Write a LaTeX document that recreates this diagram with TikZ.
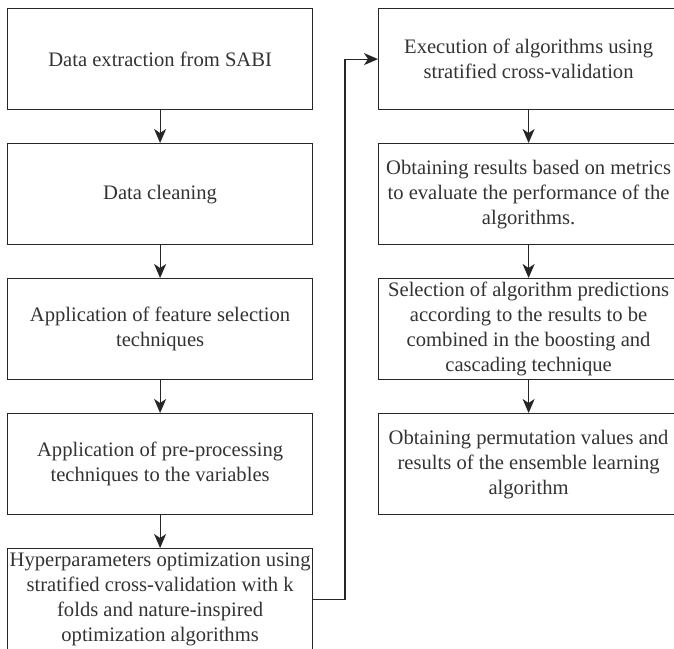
\documentclass[tikz,border=0pt]{standalone}
\usepackage{fontspec}
\setmainfont{Liberation Serif}
\usetikzlibrary{arrows.meta}
\begin{document}
\begin{tikzpicture}[x=1pt,y=-1pt,
  box/.style={draw=black!85, line width=1.2pt, anchor=north west, align=center,
    inner sep=0pt, text=black!80, font=\rmfamily\fontsize{20.6}{25}\selectfont},
  lbox/.style={box, minimum width=305pt, minimum height=101pt},
  rbox/.style={box, minimum width=300pt, minimum height=101pt},
  conn/.style={draw=black!85, line width=1.2pt, -{Stealth[length=14pt,width=12pt,inset=4pt]}}]
\clip (0,0) rectangle (674,648);
\useasboundingbox (0,0) rectangle (674,648);
\node[lbox] (l1) at (7,8) {Data extraction from SABI};
\node[lbox] (l2) at (7,143) {Data cleaning};
\node[lbox] (l3) at (7,278) {Application of feature selection\\techniques};
\node[lbox] (l4) at (7,413) {Application of pre-processing\\techniques to the variables};
\node[lbox] (l5) at (7,548) {Hyperparameters optimization using\\stratified cross-validation with k\\folds and nature-inspired\\optimization algorithms};
\node[rbox] (r1) at (378,8) {Execution of algorithms using\\stratified cross-validation};
\node[rbox] (r2) at (378,143) {Obtaining results based on metrics\\to evaluate the performance of the\\algorithms.};
\node[rbox] (r3) at (378,278) {Selection of algorithm predictions\\according to the results to be\\combined in the boosting and\\cascading technique};
\node[rbox] (r4) at (378,413) {Obtaining permutation values and\\results of the ensemble learning\\algorithm};
\draw[conn] (l1) -- (l2);
\draw[conn] (l2) -- (l3);
\draw[conn] (l3) -- (l4);
\draw[conn] (l4) -- (l5);
\draw[conn] (r1) -- (r2);
\draw[conn] (r2) -- (r3);
\draw[conn] (r3) -- (r4);
\coordinate (bend) at (345,0);
\draw[conn] (l5.east) -| (bend |- r1.west) -- (r1.west);
\end{tikzpicture}
\end{document}
